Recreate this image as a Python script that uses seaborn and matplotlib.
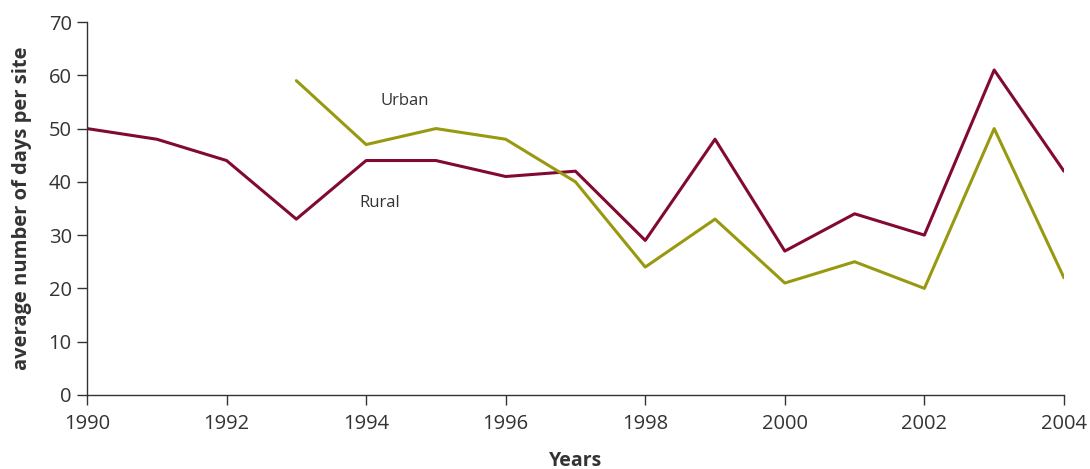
import pandas as pd
import matplotlib
matplotlib.use("Agg")
import matplotlib.pyplot as plt
import seaborn as sns

rural_years = list(range(1990, 2005))
rural_days = [50, 48, 44, 33, 44, 44, 41, 42, 29, 48, 27, 34, 30, 61, 42]
urban_years = list(range(1993, 2005))
urban_days = [59, 47, 50, 48, 40, 24, 33, 21, 25, 20, 50, 22]
x_ticks = list(range(1990, 2005, 2))
y_ticks = list(range(0, 80, 10))

RURAL_COLOR = "#820a32"
URBAN_COLOR = "#999911"
TEXT_COLOR = "#333333"

sns.set_style("white")
plt.rcParams['font.family'] = ['Open Sans', 'DejaVu Sans']

df = pd.concat([
    pd.DataFrame({'year': rural_years, 'days': rural_days, 'series': 'Rural'}),
    pd.DataFrame({'year': urban_years, 'days': urban_days, 'series': 'Urban'}),
])

fig = plt.figure(figsize=(10.9, 4.69), dpi=100)
ax = fig.add_axes([0.0798, 0.158, 0.8963, 0.795])

sns.lineplot(data=df, x='year', y='days', hue='series',
             palette={'Rural': RURAL_COLOR, 'Urban': URBAN_COLOR},
             linewidth=2.2, legend=False, ax=ax)

ax.set_xlim(1990, 2004)
ax.set_ylim(0, 70)
ax.set_xticks(x_ticks)
ax.set_yticks(y_ticks)
ax.tick_params(axis='both', direction='out', length=7, width=1, color=TEXT_COLOR,
               labelsize=14.5, labelcolor=TEXT_COLOR, left=True, bottom=True)
ax.tick_params(axis='x', pad=7)
ax.tick_params(axis='y', pad=4)
sns.despine(ax=ax)
for side in ['left', 'bottom']:
    ax.spines[side].set_color(TEXT_COLOR)
    ax.spines[side].set_linewidth(1)

ax.set_xlabel('Years', fontsize=14, fontweight='bold', color=TEXT_COLOR, labelpad=12)
ax.set_ylabel('average number of days per site', fontsize=14.5, fontweight='bold',
              color=TEXT_COLOR, labelpad=12)

ax.text(1994.56, 55.2, 'Urban', fontsize=12, color=TEXT_COLOR, ha='center', va='center')
ax.text(1994.2, 36.0, 'Rural', fontsize=12, color=TEXT_COLOR, ha='center', va='center')

fig.savefig('out.png', dpi=100)
